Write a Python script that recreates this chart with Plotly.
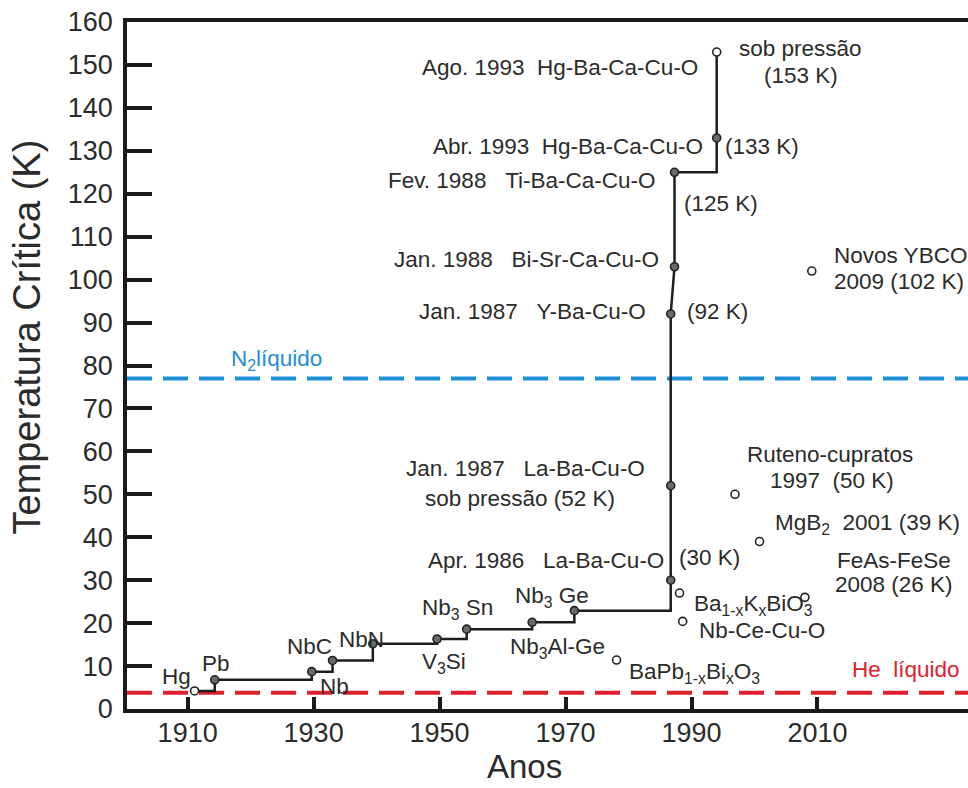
import plotly.graph_objects as go

# Record critical temperatures along the main progression (year, Tc in K)
record_names = ["Hg", "Pb", "Nb", "NbC", "NbN", "V3Si", "Nb3Sn", "Nb3Al-Ge", "Nb3Ge",
                "La-Ba-Cu-O", "La-Ba-Cu-O (pressão)", "Y-Ba-Cu-O", "Bi-Sr-Ca-Cu-O",
                "Ti-Ba-Ca-Cu-O", "Hg-Ba-Ca-Cu-O", "Hg-Ba-Ca-Cu-O (pressão)"]
record_years = [1911.1, 1914.3, 1929.7, 1933.0, 1939.4, 1949.6, 1954.3, 1964.7, 1971.4,
                1986.7, 1986.7, 1986.7, 1987.3, 1987.3, 1994.0, 1994.0]
record_tc = [4.2, 6.8, 8.7, 11.3, 15.2, 16.3, 18.6, 20.2, 22.9,
             30, 52, 92, 103, 125, 133, 153]

# Materials outside the main progression
other_names = ["BaPb1-xBixO3", "Ba1-xKxBiO3", "Nb-Ce-Cu-O", "Ruteno-cupratos",
               "MgB2", "FeAs-FeSe", "Novos YBCO"]
other_years = [1978.1, 1988.1, 1988.6, 1996.9, 2000.8, 2008.0, 2009.1]
other_tc = [11.4, 27.0, 20.4, 50, 39, 26, 102]

# Reference temperatures of the cryogenic liquids
tc_n2 = 77.0
tc_he = 3.8

x_range = [1900.37, 2033.9]
y_range = [0, 160]
year_ticks = [1910, 1930, 1950, 1970, 1990, 2010]
temp_ticks = list(range(0, 161, 10))

FONT = "Liberation Sans, Arial, Helvetica, sans-serif"
INK = "#2b2b2b"
BLUE = "#1f8fd8"
RED = "#e0202c"
LABEL_SIZE = 22.5

fig = go.Figure()

# Cryogenic reference lines
for level, color in [(tc_n2, BLUE), (tc_he, RED)]:
    fig.add_trace(go.Scatter(x=x_range, y=[level, level], mode="lines",
                             line=dict(color=color, width=4, dash="25px,11px"),
                             hoverinfo="skip", showlegend=False))

# Main progression: stepped up to Y-Ba-Cu-O, straight to Ti-Ba-Ca-Cu-O, stepped after
i_y = record_names.index("Y-Ba-Cu-O")
i_ti = record_names.index("Ti-Ba-Ca-Cu-O")
segments = [(0, i_y + 1, "hv"), (i_y, i_ti + 1, "linear"), (i_ti, len(record_years), "hv")]
for a, b, shape in segments:
    fig.add_trace(go.Scatter(x=record_years[a:b], y=record_tc[a:b], mode="lines",
                             line=dict(color="#1e1e1e", width=2.5, shape=shape),
                             hoverinfo="skip", showlegend=False))

fill = ["white"] + ["#6a6a6a"] * (len(record_years) - 2) + ["white"]
fig.add_trace(go.Scatter(x=record_years, y=record_tc, mode="markers", text=record_names,
                         marker=dict(symbol="circle", size=8, color=fill,
                                     line=dict(color="#222222", width=1.6)),
                         showlegend=False))
fig.add_trace(go.Scatter(x=other_years, y=other_tc, mode="markers", text=other_names,
                         marker=dict(symbol="circle", size=8, color="white",
                                     line=dict(color="#222222", width=1.6)),
                         showlegend=False))

# Text labels: (text, x, y, anchor, color)
labels = [
    ("Ago. 1993\u00a0\u00a0Hg-Ba-Ca-Cu-O", 1991.3, 149.3, "right", INK),
    ("sob pressão", 1997.2, 153.9, "left", INK),
    ("(153 K)", 2001.2, 147.6, "left", INK),
    ("Abr. 1993\u00a0\u00a0Hg-Ba-Ca-Cu-O", 1992.1, 131.0, "right", INK),
    ("(133 K)", 1995.0, 131.0, "left", INK),
    ("Fev. 1988\u00a0\u00a0\u00a0Ti-Ba-Ca-Cu-O", 1984.7, 123.2, "right", INK),
    ("(125 K)", 1988.5, 117.8, "left", INK),
    ("Jan. 1988\u00a0\u00a0\u00a0Bi-Sr-Ca-Cu-O", 1985.2, 104.6, "right", INK),
    ("Jan. 1987\u00a0\u00a0\u00a0Y-Ba-Cu-O", 1983.1, 92.5, "right", INK),
    ("(92 K)", 1989.0, 92.5, "left", INK),
    ("Jan. 1987\u00a0\u00a0\u00a0La-Ba-Cu-O", 1982.9, 56.1, "right", INK),
    ("sob pressão (52 K)", 1962.75, 49.1, "center", INK),
    ("Apr. 1986\u00a0\u00a0\u00a0La-Ba-Cu-O", 1985.9, 34.7, "right", INK),
    ("(30 K)", 1987.7, 35.4, "left", INK),
    ("Novos YBCO", 2012.3, 105.7, "left", INK),
    ("2009 (102 K)", 2012.3, 99.5, "left", INK),
    ("Ruteno-cupratos", 1998.5, 59.2, "left", INK),
    ("1997\u00a0\u00a0(50 K)", 2002.1, 53.3, "left", INK),
    ("MgB<sub>2</sub>\u00a0\u00a02001 (39 K)", 2002.9, 43.0, "left", INK),
    ("FeAs-FeSe", 2012.75, 34.7, "left", INK),
    ("2008 (26 K)", 2012.4, 28.9, "left", INK),
    ("Ba<sub>1-x</sub>K<sub>x</sub>BiO<sub>3</sub>", 1990.0, 24.2, "left", INK),
    ("Nb-Ce-Cu-O", 1990.8, 18.4, "left", INK),
    ("BaPb<sub>1-x</sub>Bi<sub>x</sub>O<sub>3</sub>", 1979.7, 8.3, "left", INK),
    ("He\u00a0\u00a0líquido", 2015.1, 9.1, "left", RED),
    ("N<sub>2</sub>líquido", 1916.6, 81.2, "left", BLUE),
    ("Hg", 1905.6, 7.5, "left", INK),
    ("Pb", 1912.0, 10.6, "left", INK),
    ("NbC", 1925.4, 14.5, "left", INK),
    ("Nb", 1930.7, 5.2, "left", INK),
    ("NbN", 1933.7, 16.1, "left", INK),
    ("Nb<sub>3</sub>\u00a0Sn", 1946.9, 23.4, "left", INK),
    ("V<sub>3</sub>Si", 1946.9, 10.6, "left", INK),
    ("Nb<sub>3</sub>\u00a0Ge", 1961.6, 26.2, "left", INK),
    ("Nb<sub>3</sub>Al-Ge", 1960.8, 14.1, "left", INK),
]
for text, x, y, anchor, color in labels:
    fig.add_annotation(x=x, y=y, xref="x", yref="y", text=text, showarrow=False,
                       xanchor=anchor, yanchor="middle",
                       font=dict(family=FONT, size=LABEL_SIZE, color=color))

# Axis titles
fig.add_annotation(x=-0.119, y=0.542, xref="paper", yref="paper",
                   text="Temperatura Crítica (K)", textangle=-90, showarrow=False,
                   xanchor="center", yanchor="middle",
                   font=dict(family=FONT, size=38, color=INK))
fig.add_annotation(x=0.473, y=-0.114, xref="paper", yref="paper", text="Anos",
                   showarrow=False, xanchor="center", yanchor="bottom",
                   font=dict(family=FONT, size=33, color=INK))

fig.update_layout(
    width=968, height=788,
    margin=dict(l=127, r=0, t=22, b=79),
    paper_bgcolor="white", plot_bgcolor="white",
    font=dict(family=FONT, color=INK),
    showlegend=False,
)
fig.update_xaxes(range=x_range, tickvals=year_ticks, ticks="inside", ticklen=12,
                 tickwidth=3.5, tickcolor="#1a1a1a", showline=True, linewidth=3.5,
                 linecolor="#1a1a1a", mirror=True, showgrid=False, zeroline=False,
                 tickfont=dict(family=FONT, size=27, color=INK), ticklabelstandoff=-3)
fig.update_yaxes(range=y_range, tickvals=temp_ticks, ticks="inside", ticklen=25,
                 tickwidth=3.5, tickcolor="#1a1a1a", showline=True, linewidth=3.5,
                 linecolor="#1a1a1a", mirror=False, showgrid=False, zeroline=False,
                 tickfont=dict(family=FONT, size=27, color=INK), ticklabelstandoff=5)

fig.write_html("out.html")
